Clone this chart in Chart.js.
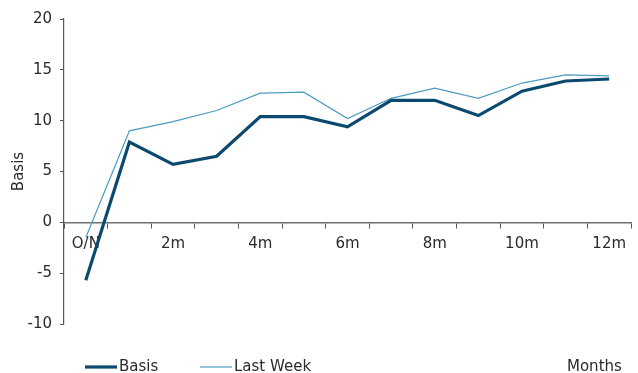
<!DOCTYPE html>
<html>
<head>
<meta charset="utf-8">
<script src="https://cdn.jsdelivr.net/npm/chart.js@4"></script>
<style>
  html, body { margin: 0; padding: 0; background: #fff; }
  #wrap { width: 638px; height: 373px; }
</style>
</head>
<body>
<div id="wrap"><canvas id="myChart"></canvas></div>
<script>
// data
var categories = ['O/N', '1m', '2m', '3m', '4m', '5m', '6m', '7m', '8m', '9m', '10m', '11m', '12m'];
var basis = [-5.7, 7.9, 5.7, 6.5, 10.4, 10.4, 9.4, 12.0, 12.0, 10.5, 12.9, 13.9, 14.1];
var lastWeek = [-1.5, 9.0, 9.9, 11.0, 12.7, 12.8, 10.2, 12.2, 13.2, 12.2, 13.7, 14.5, 14.4];
var yTicks = [-10, -5, 0, 5, 10, 15, 20];

var textColor = '#2a2a2a';
var fontName = '"DejaVu Sans", Verdana, sans-serif';

// legend + "Months" drawn under the chart
var bottomLegend = {
  id: 'bottomLegend',
  afterDraw: function(chart) {
    var ctx = chart.ctx;
    var y = 367;
    var items = [
      { x: 85, ds: chart.data.datasets[0] },
      { x: 200, ds: chart.data.datasets[1] }
    ];
    ctx.save();
    ctx.font = '15px ' + fontName;
    ctx.textBaseline = 'middle';
    ctx.textAlign = 'left';
    items.forEach(function(it) {
      ctx.strokeStyle = it.ds.borderColor;
      ctx.lineWidth = it.ds.borderWidth;
      ctx.beginPath();
      ctx.moveTo(it.x, y);
      ctx.lineTo(it.x + 32, y);
      ctx.stroke();
      ctx.fillStyle = textColor;
      ctx.fillText(it.ds.label, it.x + 34, y);
    });
    ctx.fillText('Months', 567, y);
    ctx.restore();
  }
};

var ctx = document.getElementById('myChart').getContext('2d');
var myChart = new Chart(ctx, {
  type: 'line',
  data: {
    labels: categories,
    datasets: [
      {
        label: 'Basis',
        data: basis,
        borderColor: '#0b4a6e',
        borderWidth: 3.2,
        pointRadius: 0,
        tension: 0
      },
      {
        label: 'Last Week',
        data: lastWeek,
        borderColor: '#4a9cc0',
        borderWidth: 1.2,
        pointRadius: 0,
        tension: 0
      }
    ]
  },
  options: {
    responsive: true,
    maintainAspectRatio: false,
    animation: false,
    layout: { padding: { left: 0, right: 7, top: 19, bottom: 49 } },
    plugins: {
      legend: { display: false },
      tooltip: { enabled: false }
    },
    scales: {
      x: {
        position: { y: 0 },
        offset: true,
        grid: {
          drawOnChartArea: false,
          offset: true,
          color: '#555',
          tickLength: 5,
          tickColor: '#555'
        },
        border: { color: '#707070', width: 1.5 },
        ticks: {
          autoSkip: false,
          maxRotation: 0,
          color: textColor,
          font: { family: fontName, size: 15 },
          padding: 8,
          callback: function(v, i) { return i % 2 === 0 ? categories[i] : ''; }
        }
      },
      y: {
        min: -10,
        max: 20,
        afterFit: function(scale) { scale.width = 64; },
        afterBuildTicks: function(scale) {
          scale.ticks = yTicks.map(function(v) { return { value: v }; });
        },
        grid: {
          drawOnChartArea: false,
          color: '#555',
          tickLength: 4
        },
        border: { color: '#555', width: 1.2 },
        ticks: {
          color: textColor,
          font: { family: fontName, size: 15 },
          padding: 8
        },
        title: {
          display: true,
          text: 'Basis',
          color: textColor,
          font: { family: fontName, size: 15 },
          padding: { top: 10, bottom: 0 }
        }
      }
    }
  },
  plugins: [bottomLegend]
});
</script>
</body>
</html>
